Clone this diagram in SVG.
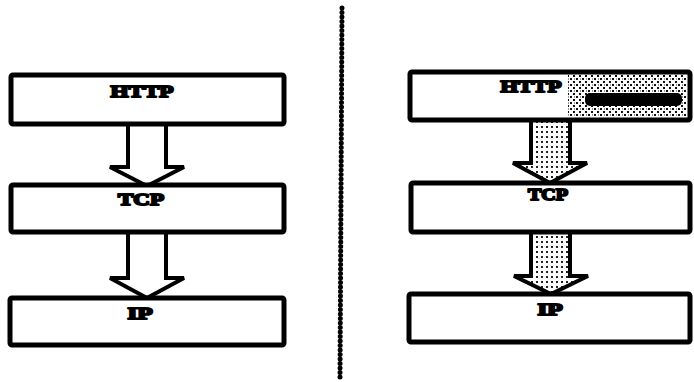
<svg xmlns="http://www.w3.org/2000/svg" width="694" height="382" viewBox="0 0 694 382">
  <defs>
    <!-- stippled fills -->
    <pattern id="dense" width="6" height="6" patternUnits="userSpaceOnUse">
      <rect width="6" height="6" fill="#fff"/>
      <rect x="0" y="0" width="2" height="2" fill="#111"/>
      <rect x="3" y="3" width="2" height="2" fill="#111"/>
      <rect x="4" y="0.5" width="1" height="1" fill="#333"/>
    </pattern>
    <pattern id="light" width="5" height="5" patternUnits="userSpaceOnUse">
      <rect width="5" height="5" fill="#fff"/>
      <rect x="1" y="1" width="2" height="2" fill="#222"/>
    </pattern>
  </defs>
  <style>
    .box { fill: #fff; stroke: #000; stroke-width: 5; }
    .arrow { stroke: #000; stroke-width: 4; stroke-linejoin: miter; }
    .plain { fill: #fff; }
    .dotted { fill: url(#light); }
    .lbl { font-family: "Liberation Serif", "DejaVu Serif", serif; font-weight: bold; font-size: 16px; fill: #000; stroke: #000; stroke-width: 1.8; stroke-linejoin: round; text-anchor: middle; }
  </style>

  <!-- divider between the two stacks -->
  <line x1="342" y1="8" x2="340" y2="378" stroke="#000" stroke-width="5" stroke-linecap="round" stroke-dasharray="0 4.5"/>

  <!-- connectors -->
  <g id="connectors">
    <polygon class="arrow plain" points="128,124 128,167 110,167 147,186 184,167 166,167 166,124"/>
    <polygon class="arrow plain" points="128,232 128,278 110,278 147,298 184,278 166,278 166,232"/>
    <polygon class="arrow dotted" points="531,120 531,163 513,163 550,183 587,163 570,163 570,120"/>
    <polygon class="arrow dotted" points="531,232 531,276 514,276 551,294 588,276 570,276 570,232"/>
  </g>

  <!-- left stack -->
  <g id="l-http">
    <rect class="box" x="11" y="75" width="273" height="49" rx="2"/>
    <text class="lbl" x="142" y="97" textLength="63" lengthAdjust="spacingAndGlyphs">HTTP</text>
  </g>
  <g id="l-tcp">
    <rect class="box" x="11" y="185" width="273" height="47" rx="2"/>
    <text class="lbl" x="141" y="205" textLength="46" lengthAdjust="spacingAndGlyphs">TCP</text>
  </g>
  <g id="l-ip">
    <rect class="box" x="10" y="298" width="274" height="47" rx="2"/>
    <text class="lbl" x="140" y="319" textLength="25" lengthAdjust="spacingAndGlyphs">IP</text>
  </g>

  <!-- right stack -->
  <g id="r-http">
    <rect class="box" x="410" y="72" width="280" height="48" rx="2"/>
    <rect x="568" y="75" width="119" height="42" fill="url(#dense)"/>
    <rect x="585" y="93" width="97" height="13" rx="5" fill="#000"/>
    <text class="lbl" x="531" y="92" textLength="61" lengthAdjust="spacingAndGlyphs">HTTP</text>
  </g>
  <g id="r-tcp">
    <rect class="box" x="411" y="183" width="279" height="49" rx="2"/>
    <text class="lbl" x="548" y="200" textLength="40" lengthAdjust="spacingAndGlyphs">TCP</text>
  </g>
  <g id="r-ip">
    <rect class="box" x="409" y="294" width="281" height="48" rx="2"/>
    <text class="lbl" x="550" y="315" textLength="25" lengthAdjust="spacingAndGlyphs">IP</text>
  </g>
</svg>
